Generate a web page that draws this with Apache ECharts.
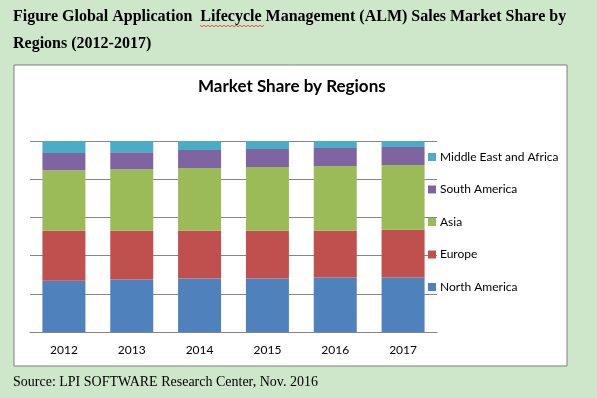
<!DOCTYPE html>
<html>
<head>
<meta charset="utf-8">
<script src="https://cdn.jsdelivr.net/npm/echarts@6/dist/echarts.min.js"></script>
<style>
  html, body { margin: 0; padding: 0; background: #cee6c9; }
  #chart { width: 597px; height: 398px; }
</style>
</head>
<body>
<div id="chart"></div>
<script>
// chart data (share in %)
const years = ["2012", "2013", "2014", "2015", "2016", "2017"];
const northAmerica = [26.8, 27.5, 28.0, 28.0, 28.5, 28.5];
const europe = [26.2, 25.5, 25.2, 25.0, 24.5, 25.0];
const asia = [31.7, 32.2, 32.7, 33.4, 33.9, 34.0];
const southAmerica = [9.0, 8.9, 9.4, 9.4, 9.4, 9.4];
const middleEastAfrica = [6.3, 5.9, 4.7, 4.2, 3.7, 3.1];

const chart = echarts.init(document.getElementById("chart"));

// red wavy spell-check underline under "Lifecycle"
const wave = [];
for (let x = 200; x <= 264; x += 2) {
  wave.push([x, (x / 2) % 2 === 0 ? 25 : 27]);
}

const mkSeries = (name, data, color) => ({
  name,
  type: "bar",
  stack: "total",
  data,
  barWidth: 43,
  itemStyle: { color },
});

chart.setOption({
  backgroundColor: "#cee6c9",
  animation: false,
  graphic: [
    {
      type: "rect",
      shape: { x: 14, y: 65, width: 553, height: 301 },
      style: { fill: "#ffffff", stroke: "#7f7f7f", lineWidth: 1 },
      z: -10,
    },
    {
      type: "text",
      left: 13,
      top: 9,
      style: {
        text: "Figure Global Application  Lifecycle Management (ALM) Sales Market Share by",
        font: "bold 16px 'Liberation Serif'",
        fill: "#000",
      },
    },
    {
      type: "text",
      left: 13,
      top: 36,
      style: {
        text: "Regions (2012-2017)",
        font: "bold 16px 'Liberation Serif'",
        fill: "#000",
      },
    },
    {
      type: "polyline",
      shape: { points: wave },
      style: { stroke: "#e03030", lineWidth: 0.8, fill: null },
    },
    {
      type: "text",
      left: 13,
      top: 375,
      style: {
        text: "Source: LPI SOFTWARE Research Center, Nov. 2016",
        font: "14px 'Liberation Serif'",
        fill: "#000",
      },
    },
  ],
  title: {
    text: "Market Share by Regions",
    left: 193,
    top: 73,
    textStyle: { fontFamily: "Lato", fontWeight: "bold", fontSize: 17, color: "#000" },
  },
  legend: {
    orient: "vertical",
    left: 423,
    top: 145,
    itemWidth: 8,
    itemHeight: 8,
    itemGap: 18.5,
    icon: "rect",
    data: ["Middle East and Africa", "South America", "Asia", "Europe", "North America"],
    textStyle: { fontFamily: "Lato", fontSize: 12, color: "#000", lineHeight: 14, padding: [0, 0, 0, -1] },
  },
  grid: { left: 30, right: 160, top: 141, bottom: 66 },
  xAxis: {
    type: "category",
    data: years,
    axisLine: { lineStyle: { color: "#868686" } },
    axisTick: { show: false },
    axisLabel: { fontFamily: "Lato", fontSize: 12, color: "#000", margin: 12 },
  },
  yAxis: {
    type: "value",
    min: 0,
    max: 100,
    interval: 20,
    axisLine: { show: false },
    axisTick: { show: false },
    axisLabel: { show: false },
    splitLine: { lineStyle: { color: "#868686" } },
  },
  series: [
    mkSeries("North America", northAmerica, "#4f81bd"),
    mkSeries("Europe", europe, "#c0504d"),
    mkSeries("Asia", asia, "#9bbb59"),
    mkSeries("South America", southAmerica, "#8064a2"),
    mkSeries("Middle East and Africa", middleEastAfrica, "#4bacc6"),
  ],
});
</script>
</body>
</html>
